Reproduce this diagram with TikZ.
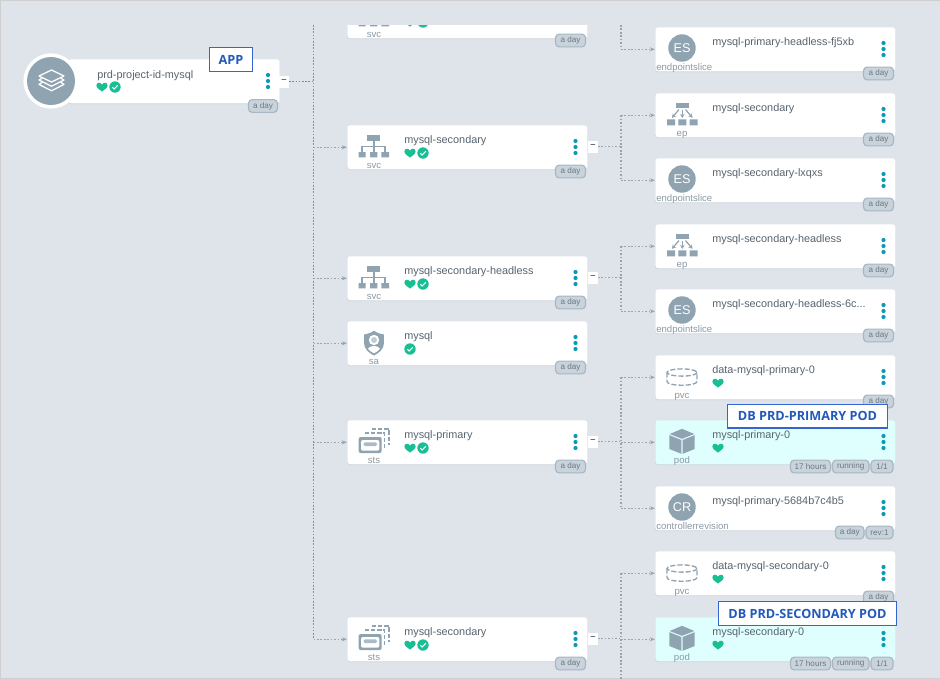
\documentclass[tikz,border=0pt]{standalone}
\usepackage{fontspec}
\setmainfont{Liberation Sans}
\newfontfamily\calloutfont{Open Sans}
\usetikzlibrary{arrows.meta}
\definecolor{pagebg}{HTML}{DEE4EA}
\definecolor{edgegray}{HTML}{CFCFCF}
\definecolor{cardshade}{HTML}{CBD3DA}
\definecolor{podcyan}{HTML}{DFFFFF}
\definecolor{nametext}{HTML}{58646F}
\definecolor{kindtext}{HTML}{8C99A4}
\definecolor{icongray}{HTML}{8FA3B1}
\definecolor{okgreen}{HTML}{18BE94}
\definecolor{dotteal}{HTML}{0A9AB5}
\definecolor{badgefill}{HTML}{C9D3DB}
\definecolor{badgeline}{HTML}{A7B6C2}
\definecolor{badgetext}{HTML}{6A7782}
\definecolor{linkgray}{HTML}{98A4AE}
\definecolor{trunkgray}{HTML}{7F8D99}
\definecolor{calloutblue}{HTML}{3566CF}
\definecolor{callouttext}{HTML}{2259BC}
\tikzset{
  cardbox/.style={fill=#1,draw=none,rounded corners=2.2pt,minimum width=180pt,minimum height=33pt,inner sep=0pt,anchor=north west},
  nametag/.style={anchor=base west,inner sep=0pt,text=nametext,font=\fontsize{8.15pt}{10pt}\selectfont},
  kindtag/.style={anchor=base,inner sep=0pt,text=kindtext,font=\fontsize{7.2pt}{9pt}\selectfont},
  badgebox/.style={fill=badgefill,draw=badgeline,line width=.85pt,rounded corners=2.8pt,minimum height=9.6pt,inner sep=0pt,text=badgetext,font=\fontsize{6.1pt}{7pt}\selectfont},
  minusbox/.style={fill=white,draw=none,minimum width=7pt,minimum height=9pt,inner sep=0pt,text=nametext,font=\fontsize{7pt}{8pt}\bfseries\selectfont},
  link/.style={draw=linkgray,line width=.8pt,dash pattern=on 1.2pt off 1.4pt},
  trunkline/.style={draw=trunkgray,line width=1.1pt,dash pattern=on 1.2pt off 1.2pt},
  tiplink/.style={link,-{Stealth[length=4pt,width=3pt]}},
  callout/.style={fill=white,draw=calloutblue,line width=.95pt,inner sep=0pt,text=callouttext,font=\calloutfont\bfseries\fontsize{9.5pt}{11pt}\selectfont},
  circletext/.style={inner sep=0pt,text=white,font=\fontsize{9.5pt}{11pt}\selectfont},
}
% icons: centred on the origin of a shifted scope
\newcommand{\svcicon}{%
  \fill[icongray] (-6.7,-12) rectangle (6,-6.3);
  \fill[icongray] (-15.3,5) rectangle (-8.3,10.3) (-4,5) rectangle (3.3,10.3) (7.3,5) rectangle (15,10.3);
  \draw[icongray,line width=.8pt] (0,-6.3) -- (0,5) (-12,5) -- (-12,-.5) -- (11,-.5) -- (11,5);
}
\newcommand{\epicon}{%
  \fill[icongray] (-6.3,-12.3) rectangle (7,-6.7);
  \fill[icongray] (-15,4.3) rectangle (-7,10.3) (-3.7,4.3) rectangle (4.3,10.3) (7.7,4.3) rectangle (15.7,10.3);
  \draw[icongray,line width=.9pt,-{Stealth[length=3pt,width=3.4pt]}] (-3,-5.5) -- (-10,2.8);
  \draw[icongray,line width=.9pt,-{Stealth[length=3pt,width=3.4pt]}] (.3,-5.5) -- (.3,3);
  \draw[icongray,line width=.9pt,-{Stealth[length=3pt,width=3.4pt]}] (3.5,-5.5) -- (10.5,2.8);
}
\newcommand{\saicon}{%
  \begin{scope}
    \path[clip] (0,-12.3) .. controls (3,-10) and (7,-9) .. (10,-8.5) -- (10,0) .. controls (10,6) and (5,10) .. (0,12.5) .. controls (-5,10) and (-10,6) .. (-10,0) -- (-10,-8.5) .. controls (-7,-9) and (-3,-10) .. (0,-12.3) -- cycle;
    \fill[icongray] (-11,-13) rectangle (11,13);
    \fill[white] (0,-3) circle[radius=5.2];
    \fill[icongray!55] (0,-3) circle[radius=3];
    \clip (0,-8.6) .. controls (0,-8.6) and (8,-4) .. (8,0) .. controls (8,5) and (4,8.5) .. (0,10.2) .. controls (-4,8.5) and (-8,5) .. (-8,0) .. controls (-8,-4) and (0,-8.6) .. (0,-8.6) -- cycle;
    \fill[white] (0,8.5) ellipse[x radius=7,y radius=5.5];
  \end{scope}
}
\newcommand{\stsicon}{%
  \draw[icongray,line width=.85pt,dash pattern=on 3.2pt off 1.4pt] (-2,-13) -- (15,-13) -- (15,3);
  \draw[icongray,line width=.85pt,dash pattern=on 3.2pt off 1.4pt] (-9,-9) -- (10.5,-9) -- (10.5,7);
  \fill[white] (-16,-6) rectangle (8.7,12);
  \fill[icongray,rounded corners=1.5pt] (-15.3,-5) rectangle (7.7,11);
  \fill[white,rounded corners=1.5pt] (-13,-2) rectangle (5.4,8.7);
  \fill[icongray!75,rounded corners=1.2pt] (-10.5,.3) rectangle (3,4.2);
}
\newcommand{\pvcicon}{%
  \draw[icongray,line width=1pt,dash pattern=on 3.8pt off 1.6pt] (0,-4.5) ellipse[x radius=15,y radius=3.6];
  \draw[icongray,line width=1pt,dash pattern=on 3.8pt off 1.6pt] (-15,-4.5) -- (-15,4.5) .. controls (-15,9.5) and (15,9.5) .. (15,4.5) -- (15,-4.5);
}
\newcommand{\podicon}{%
  \fill[icongray] (0,-13.2) -- (12.3,-8) -- (0,-3.2) -- (-12.3,-8) -- cycle;
  \fill[icongray] (-12.6,-6.8) -- (-.7,-2) -- (-.7,11.8) -- (-12.6,7) -- cycle;
  \fill[icongray] (12.6,-6.8) -- (.7,-2) -- (.7,11.8) -- (12.6,7) -- cycle;
}
\newcommand{\esicon}{%
  \fill[icongray] (0,-1) circle[radius=13.7];
  \node[circletext] (es\thenodecount) at (0,-1) {ES};
}
\newcommand{\cricon}{%
  \fill[icongray] (0,-1) circle[radius=13.7];
  \node[circletext] (cr\thenodecount) at (0,-1) {CR};
}
\newcounter{nodecount}
% status marks
\newcommand{\heartmark}[2]{%
  \fill[okgreen,shift={(#1,#2)}] (0,4.6) .. controls (-2.6,2.6) and (-5.6,.8) .. (-5.6,-1.6) .. controls (-5.6,-4.8) and (-1.4,-5.2) .. (0,-2.5) .. controls (1.4,-5.2) and (5.6,-4.8) .. (5.6,-1.6) .. controls (5.6,.8) and (2.6,2.6) .. (0,4.6) -- cycle;
}
\newcommand{\checkmarkdot}[2]{%
  \fill[okgreen] (#1,#2) circle[radius=5.7];
  \draw[white,line width=.8pt,shift={(#1,#2)}] (-2.6,.2) -- (-.8,2) -- (2.8,-1.8);
}
\newcommand{\nomark}[1]{}
\newcommand{\hc}[1]{\heartmark{\the\numexpr#1+63}{\cardy}\checkmarkdot{\the\numexpr#1+76}{\cardy}}
\newcommand{\honly}[1]{\heartmark{\the\numexpr#1+63}{\cardy}}
\newcommand{\conly}[1]{\checkmarkdot{\the\numexpr#1+63}{\cardy}}
% \card{id}{left}{top}{fill}{name}{icon}{kind}{status macro}
\newcommand{\card}[8]{%
  \stepcounter{nodecount}%
  \fill[cardshade,rounded corners=2.2pt] (#2,#3+1) rectangle (#2+240,#3+45);
  \node[cardbox=#4] (#1) at (#2,#3) {};
  \begin{scope}[shift={(#2+27,#3+22)}]#6\end{scope}
  \node[kindtag] (#1-kind) at (#2+27,#3+43) {#7};
  \node[nametag] (#1-name) at (#2+57,#3+18.1) {#5};
  \edef\cardy{\the\numexpr#3+28}%
  #8{#2}%
  \fill[dotteal] (#2+228.5,#3+16) circle[radius=2.1] (#2+228.5,#3+22) circle[radius=2.1] (#2+228.5,#3+28) circle[radius=2.1];
}
% \badge{id}{left}{right}{top}{text}
\newcommand{\badge}[5]{%
  \pgfmathsetmacro{\bw}{(#3-#2-1)*.75}%
  \node[badgebox,minimum width=\bw pt] (#1) at ({(#2+#3)/2},{#4+6.5}) {#5};
}
\newcommand{\aday}[3]{\badge{#1}{\the\numexpr#2+209}{\the\numexpr#2+238}{\the\numexpr#3+40}{a day}}
\newcommand{\minus}[3]{\node[minusbox] (#1) at (#2+6,#3+21.5) {–};}
\begin{document}
\begin{tikzpicture}[x=.75pt,y=-.75pt]
\useasboundingbox (0,0) rectangle (940,679);
\fill[pagebg] (0,0) rectangle (940,679);
\draw[edgegray,line width=.75pt] (.5,.5) -- (939.5,.5) (.5,.5) -- (.5,678.5) -- (939.5,678.5);

% ---- free ends of the dashed lines
\coordinate (trunktop) at (313.5,25);
\coordinate (col2top) at (621,25);
\coordinate (col2bottom) at (621,679);

% ---- application card
\fill[cardshade,rounded corners=2.2pt] (68,60) rectangle (279.5,104);
\node[cardbox=white,minimum width=158.6pt] (app) at (68,59) {};
\node[circle,fill=white,minimum size=41.5pt,inner sep=0pt] (appring) at (51,81) {};
\node[circle,fill=icongray,minimum size=36pt,inner sep=0pt] (appdisc) at (51,81) {};
\begin{scope}[shift={(51.5,81)},white,line width=.95pt,line join=round,line cap=round]
  \draw (0,-11) -- (12.5,-5) -- (0,1) -- (-12.5,-5) -- cycle;
  \draw (-9.5,-2.8) -- (-12.5,-1) -- (0,5.2) -- (12.5,-1) -- (9.5,-2.8);
  \draw (-9.5,1.4) -- (-12.5,3.4) -- (0,9.8) -- (12.5,3.4) -- (9.5,1.4);
\end{scope}
\node[nametag] (app-name) at (97,78.2) {prd-project-id-mysql};
\edef\cardy{87}\heartmark{102}{\cardy}\checkmarkdot{115}{\cardy}
\fill[dotteal] (268,75) circle[radius=2.1] (268,81) circle[radius=2.1] (268,87) circle[radius=2.1];
\badge{app-age}{248}{278}{99.5}{a day}
\node[minusbox,minimum width=7.5pt] (app-m) at (284,81.5) {–};

% ---- middle column
\begin{scope}
  \clip (0,25) rectangle (940,679);
  \card{svcprim}{347}{-6}{white}{mysql-primary}{\svcicon}{svc}{\hc}
\end{scope}
\aday{svcprim-age}{347}{-6}
\card{svcsec}{347}{125}{white}{mysql-secondary}{\svcicon}{svc}{\hc}
\aday{svcsec-age}{347}{125}
\minus{svcsec-m}{587}{125}
\card{svchl}{347}{256}{white}{mysql-secondary-headless}{\svcicon}{svc}{\hc}
\aday{svchl-age}{347}{256}
\minus{svchl-m}{587}{256}
\card{sa}{347}{321}{white}{mysql}{\saicon}{sa}{\conly}
\aday{sa-age}{347}{321}
\card{stsprim}{347}{420}{white}{mysql-primary}{\stsicon}{sts}{\hc}
\aday{stsprim-age}{347}{420}
\minus{stsprim-m}{587}{420}
\card{stssec}{347}{617}{white}{mysql-secondary}{\stsicon}{sts}{\hc}
\aday{stssec-age}{347}{617}
\minus{stssec-m}{587}{617}

% ---- right column
\card{esprimhl}{655}{27}{white}{mysql-primary-headless-fj5xb}{\esicon}{}{\nomark}
\node[kindtag,anchor=base west] (esprimhl-k) at (656,70) {endpointslice};
\aday{esprimhl-age}{655}{27}
\card{epsec}{655}{93}{white}{mysql-secondary}{\epicon}{ep}{\nomark}
\aday{epsec-age}{655}{93}
\card{essec}{655}{158}{white}{mysql-secondary-lxqxs}{\esicon}{}{\nomark}
\node[kindtag,anchor=base west] (essec-k) at (656,201) {endpointslice};
\aday{essec-age}{655}{158}
\card{ephl}{655}{224}{white}{mysql-secondary-headless}{\epicon}{ep}{\nomark}
\aday{ephl-age}{655}{224}
\card{eshl}{655}{289}{white}{mysql-secondary-headless-6c...}{\esicon}{}{\nomark}
\node[kindtag,anchor=base west] (eshl-k) at (656,332) {endpointslice};
\aday{eshl-age}{655}{289}
\card{pvcprim}{655}{355}{white}{data-mysql-primary-0}{\pvcicon}{pvc}{\honly}
\aday{pvcprim-age}{655}{355}
\card{podprim}{655}{420}{podcyan}{mysql-primary-0}{\podicon}{pod}{\honly}
\badge{podprim-age}{790}{831}{460}{17 hours}
\badge{podprim-st}{832}{869.5}{460}{running}
\badge{podprim-rd}{870.5}{893.5}{460}{1/1}
\card{cr}{655}{486}{white}{mysql-primary-5684b7c4b5}{\cricon}{}{\nomark}
\node[kindtag,anchor=base west] (cr-k) at (656,529) {controllerrevision};
\badge{cr-age}{835}{864.5}{526}{a day}
\badge{cr-rev}{865.5}{893.5}{526}{rev:1}
\card{pvcsec}{655}{551}{white}{data-mysql-secondary-0}{\pvcicon}{pvc}{\honly}
\aday{pvcsec-age}{655}{551}
\card{podsec}{655}{617}{podcyan}{mysql-secondary-0}{\podicon}{pod}{\honly}
\badge{podsec-age}{790}{831}{657}{17 hours}
\badge{podsec-st}{832}{869.5}{657}{running}
\badge{podsec-rd}{870.5}{893.5}{657}{1/1}

% ---- connectors
\draw[trunkline] (trunktop) -- (trunktop |- stssec.west);
\draw[trunkline] (app-m.east) -- (trunktop |- app-m.east);
\foreach \c in {svcsec,svchl,sa,stsprim,stssec}
  \draw[tiplink] (trunktop |- \c.west) -- (\c.west);
\draw[link] (col2top) -- (col2top |- esprimhl.west);
\draw[tiplink] (col2top |- esprimhl.west) -- (esprimhl.west);
\draw[link] (col2top |- epsec.west) -- (col2top |- essec.west);
\draw[link] (svcsec-m.east) -- (col2top |- svcsec-m.east);
\foreach \c in {epsec,essec} \draw[tiplink] (col2top |- \c.west) -- (\c.west);
\draw[link] (col2top |- ephl.west) -- (col2top |- eshl.west);
\draw[link] (svchl-m.east) -- (col2top |- svchl-m.east);
\foreach \c in {ephl,eshl} \draw[tiplink] (col2top |- \c.west) -- (\c.west);
\draw[link] (col2top |- pvcprim.west) -- (col2top |- cr.west);
\draw[link] (stsprim-m.east) -- (col2top |- stsprim-m.east);
\foreach \c in {pvcprim,podprim,cr} \draw[tiplink] (col2top |- \c.west) -- (\c.west);
\draw[link] (col2top |- pvcsec.west) -- (col2bottom);
\draw[link] (stssec-m.east) -- (col2top |- stssec-m.east);
\foreach \c in {pvcsec,podsec} \draw[tiplink] (col2top |- \c.west) -- (\c.west);

% ---- call-outs
\node[callout,minimum width=32.5pt,minimum height=18pt] (appnote) at (231,59.5) {APP};
\node[callout,minimum width=119.5pt,minimum height=17.8pt] (primnote) at (807.5,416) {DB PRD-PRIMARY POD};
\node[callout,minimum width=134pt,minimum height=18.4pt] (secnote) at (807.5,613.5) {DB PRD-SECONDARY POD};
\end{tikzpicture}
\end{document}
